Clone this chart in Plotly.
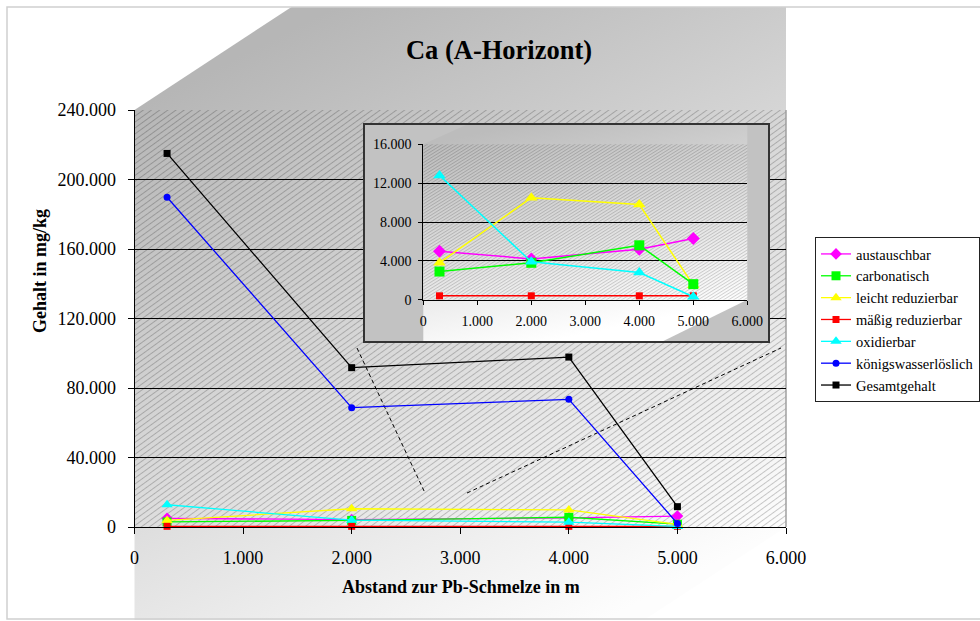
import base64
import plotly.graph_objects as go

# Ca fractions in the A horizon (mg/kg) by distance to the Pb smelter (m)
abstand = [300, 2000, 4000, 5000]
austauschbar = [5000, 4200, 5200, 6300]
carbonatisch = [2900, 3800, 5600, 1600]
leicht_reduzierbar = [3800, 10500, 9800, 1500]
maessig_reduzierbar = [400, 400, 400, 400]
oxidierbar = [12800, 3900, 2800, 300]
koenigswasserloeslich = [189800, 68700, 73500, 2000]
gesamtgehalt = [215000, 91700, 97800, 11700]

series = [
    ("austauschbar", austauschbar),
    ("carbonatisch", carbonatisch),
    ("leicht reduzierbar", leicht_reduzierbar),
    ("mäßig reduzierbar", maessig_reduzierbar),
    ("oxidierbar", oxidierbar),
    ("königswasserlöslich", koenigswasserloeslich),
    ("Gesamtgehalt", gesamtgehalt),
]
# the detail chart shows the small fractions only
inset_order = ["austauschbar", "leicht reduzierbar", "carbonatisch", "mäßig reduzierbar", "oxidierbar"]

title_text = "Ca (A-Horizont)"
x_title = "Abstand zur Pb-Schmelze in m"
y_title = "Gehalt in mg/kg"

# ---- styling -------------------------------------------------------------
styles = {
    "austauschbar": dict(color="#ff00ff", symbol="diamond", size=9, isize=10),
    "carbonatisch": dict(color="#00ff00", symbol="square", size=9, isize=10),
    "leicht reduzierbar": dict(color="#ffff00", symbol="triangle-up", size=10, isize=11),
    "mäßig reduzierbar": dict(color="#ff0000", symbol="square", size=7, isize=7),
    "oxidierbar": dict(color="#00ffff", symbol="triangle-up", size=10, isize=11),
    "königswasserlöslich": dict(color="#0000ff", symbol="circle", size=7, isize=7),
    "Gesamtgehalt": dict(color="#000000", symbol="square", size=7, isize=7),
}
SERIF = "Liberation Serif, Times New Roman, serif"
W, H = 980, 621

# pixel boxes (left, top, right, bottom)
MAIN = (134.5, 110.0, 786.0, 527.0)
INSET_BOX = (363.0, 123.0, 770.0, 343.0)
INSET = (423.3, 144.3, 747.3, 299.7)


def xdom(b):
    return [b[0] / W, b[2] / W]


def ydom(b):
    return [1 - b[3] / H, 1 - b[1] / H]


def svg_uri(svg):
    return "data:image/svg+xml;base64," + base64.b64encode(svg.encode("utf-8")).decode("ascii")


# ---- chart-area backdrop: shaded box with hatched plot area -------------
l, t, r, b = MAIN
main_svg = f"""<svg xmlns="http://www.w3.org/2000/svg" width="{W}" height="{H}" viewBox="0 0 {W} {H}" preserveAspectRatio="none">
<defs>
<linearGradient id="g" gradientUnits="userSpaceOnUse" x1="{l}" y1="{t}" x2="{l+304}" y2="{t+595}">
<stop offset="0" stop-color="#b6b6b6"/><stop offset="1" stop-color="#fdfdfd"/>
</linearGradient>
<pattern id="p" patternUnits="userSpaceOnUse" width="40" height="4.8" patternTransform="rotate(-36)">
<line x1="0" y1="0.5" x2="40" y2="0.5" stroke="#000" stroke-opacity="0.3" stroke-width="0.7"/>
</pattern>
</defs>
<rect x="0" y="0" width="{W}" height="{H}" fill="#ffffff"/>
<polygon points="{l},{t} {l+157},7 {r},7 {r},{b} {r-142},620 {l},620" fill="url(#g)"/>
<rect x="{l}" y="{t}" width="{r-l}" height="{b-t}" fill="url(#p)"/>
<line x1="{r}" y1="{t}" x2="{r}" y2="{b}" stroke="#9a9a9a" stroke-width="1.4"/>
<rect x="7" y="7" width="1000" height="612" fill="none" stroke="#cfcfcf" stroke-width="1.5"/>
</svg>"""

il, it, ir, ib = INSET
bl, bt, br, bb = INSET_BOX
inset_svg = f"""<svg xmlns="http://www.w3.org/2000/svg" width="{br-bl}" height="{bb-bt}" viewBox="{bl} {bt} {br-bl} {bb-bt}" preserveAspectRatio="none">
<defs>
<linearGradient id="g2" gradientUnits="userSpaceOnUse" x1="{il}" y1="{it}" x2="{il+44}" y2="{it+214}">
<stop offset="0" stop-color="#bcbcbc"/><stop offset="1" stop-color="#ffffff"/>
</linearGradient>
<pattern id="p2" patternUnits="userSpaceOnUse" width="40" height="2.7" patternTransform="rotate(-32)">
<line x1="0" y1="0.5" x2="40" y2="0.5" stroke="#000" stroke-opacity="0.24" stroke-width="0.7"/>
</pattern>
</defs>
<rect x="{bl}" y="{bt}" width="{br-bl}" height="{bb-bt}" fill="#c2c2c2"/>
<polygon points="{il},{it} {il+47},{bt} {ir},{bt} {ir},{ib} {ir-88},{bb} {il},{bb}" fill="url(#g2)"/>
<rect x="{il}" y="{it}" width="{ir-il}" height="{ib-it}" fill="url(#p2)"/>
<rect x="{bl+1}" y="{bt+1}" width="{br-bl-2}" height="{bb-bt-2}" fill="none" stroke="#333333" stroke-width="2"/>
</svg>"""

fig = go.Figure()

# main chart
for name, vals in series:
    s = styles[name]
    fig.add_trace(go.Scatter(
        x=abstand, y=vals, name=name, mode="lines+markers",
        line=dict(color=s["color"], width=1.3),
        marker=dict(color=s["color"], symbol=s["symbol"], size=s["size"], line=dict(width=0)),
        cliponaxis=False, xaxis="x", yaxis="y",
    ))

# frame subplot that carries the detail chart's backdrop
fig.add_trace(go.Scatter(x=[0.5], y=[0.5], mode="markers", marker=dict(opacity=0),
                         showlegend=False, hoverinfo="skip", xaxis="x2", yaxis="y2"))

# detail chart of the small fractions
lookup = dict(series)
for name in inset_order:
    s = styles[name]
    fig.add_trace(go.Scatter(
        x=abstand, y=lookup[name], name=name, mode="lines+markers", showlegend=False,
        line=dict(color=s["color"], width=1.5),
        marker=dict(color=s["color"], symbol=s["symbol"], size=s["isize"], line=dict(width=0)),
        cliponaxis=False, xaxis="x3", yaxis="y3",
    ))

axis_common = dict(
    ticks="outside", tickcolor="#000", showline=True, linecolor="#000", linewidth=1,
    zeroline=False, tickformat=",d", fixedrange=True, automargin=False,
)

fig.update_layout(
    width=W, height=H, autosize=False,
    margin=dict(l=0, r=0, t=0, b=0, pad=0, autoexpand=False),
    paper_bgcolor="white", plot_bgcolor="rgba(0,0,0,0)",
    separators=",.",
    font=dict(family=SERIF, color="#000"),
    title=dict(text=title_text, x=499 / W, y=1 - 50 / H, xref="paper", yref="paper",
               xanchor="center", yanchor="middle",
               font=dict(family=SERIF, size=26.5, weight="bold", color="#000")),
    xaxis=dict(domain=xdom(MAIN), range=[0, 6000], tick0=0, dtick=1000, ticklen=6,
               showgrid=False, anchor="y", tickfont=dict(size=18), ticklabelstandoff=8,
               **axis_common),
    yaxis=dict(domain=ydom(MAIN), range=[0, 240000], tick0=0, dtick=40000, ticklen=6,
               showgrid=True, gridcolor="#000", gridwidth=1, anchor="x",
               tickfont=dict(size=18), ticklabelstandoff=8, **axis_common),
    xaxis2=dict(domain=xdom(INSET_BOX), range=[0, 1], visible=False, anchor="y2",
                fixedrange=True, automargin=False),
    yaxis2=dict(domain=ydom(INSET_BOX), range=[0, 1], visible=False, anchor="x2",
                fixedrange=True, automargin=False),
    xaxis3=dict(domain=xdom(INSET), range=[0, 6000], tick0=0, dtick=1000, ticklen=4,
                showgrid=False, anchor="y3", tickfont=dict(size=14), ticklabelstandoff=4,
                **axis_common),
    yaxis3=dict(domain=ydom(INSET), range=[0, 16000], tick0=0, dtick=4000, ticklen=4,
                showgrid=True, gridcolor="#000", gridwidth=1, anchor="x3",
                tickfont=dict(size=14), ticklabelstandoff=4, **axis_common),
    legend=dict(x=815 / W, y=1 - 237 / H, xanchor="left", yanchor="top",
                bgcolor="white", bordercolor="#222", borderwidth=1,
                font=dict(family=SERIF, size=14.5, color="#000"), tracegroupgap=0,
                itemwidth=30),
    images=[
        dict(source=svg_uri(main_svg), xref="paper", yref="paper", x=0, y=1,
             sizex=1, sizey=1, xanchor="left", yanchor="top", sizing="stretch", layer="below"),
        dict(source=svg_uri(inset_svg), xref="x2", yref="y2", x=0, y=1,
             sizex=1, sizey=1, xanchor="left", yanchor="top", sizing="stretch", layer="below"),
    ],
    shapes=[
        dict(type="line", xref="paper", yref="paper", x0=357 / W, y0=1 - 348 / H,
             x1=425 / W, y1=1 - 493 / H, line=dict(color="#000", width=1, dash="4px,3px"), layer="below"),
        dict(type="line", xref="paper", yref="paper", x0=467 / W, y0=1 - 493 / H,
             x1=781 / W, y1=1 - 348 / H, line=dict(color="#000", width=1, dash="4px,3px"), layer="below"),
    ],
    annotations=[
        dict(text=x_title, xref="paper", yref="paper", x=460.5 / W, y=1 - 587 / H,
             xanchor="center", yanchor="middle", showarrow=False,
             font=dict(family=SERIF, size=18, weight="bold", color="#000")),
        dict(text=y_title, xref="paper", yref="paper", x=40 / W, y=1 - 271 / H,
             xanchor="center", yanchor="middle", showarrow=False, textangle=-90,
             font=dict(family=SERIF, size=18, weight="bold", color="#000")),
    ],
)

fig.write_html("out.html")
